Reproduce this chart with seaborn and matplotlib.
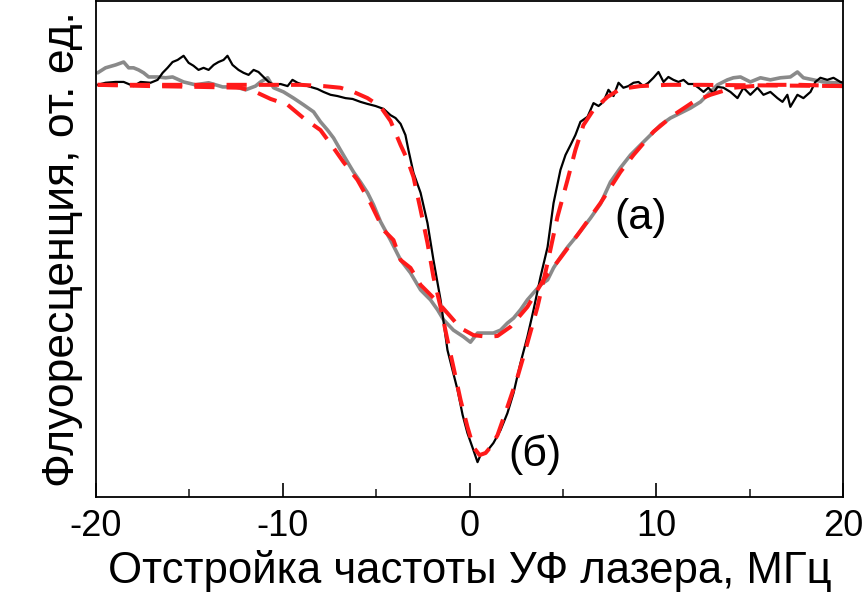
import numpy as np
import pandas as pd
import matplotlib
matplotlib.use("Agg")
import matplotlib.pyplot as plt
import seaborn as sns
from matplotlib.ticker import MultipleLocator

# ---- data (x in MHz, y in arbitrary units) ----
x_b = [-19.91, -19.49, -18.95, -18.52, -17.99, -17.61, -17.08, -16.70, -16.43, -16.17,
       -15.90, -15.63, -15.31, -15.04, -14.78, -14.51, -14.24, -13.97, -13.70, -13.44,
       -13.17, -12.96, -12.69, -12.37, -12.10, -11.83, -11.56, -11.30, -11.03, -10.76,
       -10.49, -10.12, -9.74, -9.48, -9.21, -8.89, -8.51, -8.14, -7.82, -7.44,
       -7.07, -6.64, -6.26, -5.84, -5.46, -5.03, -4.60, -4.23, -3.96, -3.69,
       -3.43, -3.27, -3.00, -2.62, -2.25, -1.93, -1.55, -1.18, -0.64, -0.37,
       -0.11, 0.21, 0.43, 0.59, 0.86, 1.28, 1.66, 2.03, 2.36, 2.73,
       3.10, 3.43, 3.80, 4.18, 4.50, 4.87, 5.14, 5.41, 5.67, 5.94,
       6.32, 6.64, 6.91, 7.17, 7.44, 7.71, 7.98, 8.24, 8.51, 8.78,
       9.05, 9.31, 9.58, 9.85, 10.12, 10.39, 10.65, 10.92, 11.19, 11.46,
       11.72, 11.99, 12.26, 12.53, 12.79, 13.06, 13.28, 13.60, 13.97, 14.35,
       14.67, 15.04, 15.42, 15.74, 16.11, 16.49, 16.76, 17.02, 17.18, 17.56,
       17.88, 18.26, 18.52, 18.79, 19.16, 19.49, 19.86, 20.00]
y_b = [0.993, 0.998, 1.000, 1.000, 0.990, 1.000, 0.998, 1.005, 1.022, 1.034,
       1.048, 1.053, 1.063, 1.046, 1.039, 1.029, 1.034, 1.029, 1.041, 1.048,
       1.053, 1.063, 1.041, 1.029, 1.022, 1.017, 1.029, 1.024, 1.012, 1.000,
       0.993, 0.995, 0.990, 1.005, 0.998, 0.993, 0.988, 0.983, 0.976, 0.969,
       0.966, 0.961, 0.959, 0.952, 0.947, 0.942, 0.935, 0.920, 0.913, 0.899,
       0.872, 0.836, 0.781, 0.733, 0.660, 0.571, 0.475, 0.354, 0.258, 0.198,
       0.154, 0.113, 0.084, 0.101, 0.106, 0.130, 0.161, 0.202, 0.251, 0.323,
       0.386, 0.451, 0.530, 0.602, 0.708, 0.788, 0.824, 0.848, 0.872, 0.904,
       0.916, 0.949, 0.942, 0.952, 0.981, 0.966, 0.998, 0.986, 0.990, 0.998,
       1.000, 0.990, 0.998, 1.010, 1.024, 1.000, 1.012, 1.005, 1.000, 1.005,
       0.995, 0.995, 0.986, 0.976, 0.986, 0.973, 0.988, 0.986, 0.976, 0.961,
       0.986, 0.969, 0.986, 0.969, 0.976, 0.961, 0.952, 0.969, 0.940, 0.969,
       0.961, 0.976, 1.000, 1.010, 1.005, 1.010, 1.000, 0.998]

x_a = [-19.91, -19.49, -18.95, -18.52, -18.25, -17.99, -17.72, -17.45, -17.18, -16.70,
       -16.27, -15.90, -15.31, -14.67, -13.97, -13.22, -12.53, -11.99, -11.46, -11.19,
       -10.81, -10.49, -9.96, -9.42, -8.89, -8.35, -7.98, -7.60, -7.28, -6.91,
       -6.53, -6.21, -5.84, -5.46, -5.14, -4.76, -4.23, -3.69, -3.16, -2.62,
       -2.09, -1.71, -1.39, -0.86, -0.32, 0.05, 0.43, 0.86, 1.28, 1.66,
       2.03, 2.36, 2.73, 3.10, 3.43, 3.80, 4.18, 4.50, 4.87, 5.25,
       5.78, 6.48, 7.01, 7.55, 8.08, 8.62, 9.15, 9.69, 10.22, 10.76,
       11.30, 11.83, 12.37, 12.90, 13.28, 13.81, 14.13, 14.51, 15.04, 15.58,
       16.11, 16.65, 17.18, 17.56, 17.88, 18.42, 18.95, 19.49, 20.00]
y_a = [1.022, 1.034, 1.041, 1.048, 1.034, 1.034, 1.029, 1.022, 1.012, 1.012,
       1.010, 1.012, 1.000, 0.993, 0.998, 0.988, 0.988, 0.981, 0.990, 1.000,
       1.010, 0.986, 0.976, 0.961, 0.945, 0.928, 0.904, 0.884, 0.865, 0.836,
       0.807, 0.783, 0.759, 0.733, 0.704, 0.663, 0.619, 0.571, 0.540, 0.499,
       0.475, 0.451, 0.427, 0.402, 0.386, 0.373, 0.395, 0.395, 0.395, 0.402,
       0.419, 0.431, 0.451, 0.475, 0.492, 0.511, 0.523, 0.552, 0.578, 0.602,
       0.631, 0.672, 0.706, 0.759, 0.793, 0.824, 0.848, 0.872, 0.896, 0.913,
       0.925, 0.937, 0.952, 0.976, 0.993, 1.005, 1.010, 1.012, 1.000, 1.010,
       1.005, 1.010, 1.012, 1.024, 1.010, 1.005, 1.000, 0.998, 0.998]

x_fit_a = [-19.91, -17.08, -14.40, -12.26, -11.46, -10.65, -9.74, -8.89, -7.98, -7.28,
           -6.75, -6.00, -5.30, -4.60, -4.07, -3.69, -3.16, -2.62, -1.71, -1.18,
           -0.48, 0.21, 0.96, 1.50, 2.19, 3.10, 3.96, 4.87, 5.94, 7.01,
           8.08, 8.78, 9.85, 10.92, 11.99, 12.90, 14.13, 15.95, 17.72, 20.00]
y_fit_a = [0.993, 0.990, 0.988, 0.986, 0.976, 0.959, 0.945, 0.913, 0.884, 0.841,
           0.807, 0.764, 0.708, 0.643, 0.619, 0.571, 0.552, 0.511, 0.470, 0.443,
           0.407, 0.390, 0.386, 0.388, 0.410, 0.458, 0.523, 0.576, 0.641, 0.708,
           0.783, 0.824, 0.880, 0.920, 0.952, 0.969, 0.986, 0.993, 0.993, 0.990]

x_fit_b = [-19.91, -14.40, -9.05, -7.82, -6.91, -6.21, -5.46, -4.76, -4.23, -3.69,
           -3.32, -3.00, -2.62, -2.25, -1.93, -1.55, -1.18, -0.86, -0.48, -0.11,
           0.21, 0.54, 0.86, 1.12, 1.50, 2.03, 2.57, 3.10, 3.64, 4.18,
           4.71, 5.25, 5.67, 6.10, 6.64, 7.39, 8.08, 9.15, 10.60, 12.37, 20.00]
y_fit_b = [0.993, 0.993, 0.993, 0.990, 0.986, 0.976, 0.961, 0.940, 0.906, 0.848,
           0.812, 0.771, 0.692, 0.612, 0.530, 0.458, 0.378, 0.313, 0.234, 0.169,
           0.120, 0.101, 0.106, 0.120, 0.149, 0.217, 0.289, 0.371, 0.458, 0.564,
           0.675, 0.764, 0.836, 0.896, 0.933, 0.964, 0.983, 0.990, 0.993, 0.993, 0.990]

x_ticks = [-20, -10, 0, 10, 20]
x_label = "Отстройка частоты УФ лазера, МГц"
y_label = "Флуоресценция, от. ед."
label_a = "(а)"
label_b = "(б)"

# ---- plotting ----
sns.set_theme(style="white")
plt.rcParams['font.family'] = ['Liberation Sans', 'DejaVu Sans']
plt.rcParams['axes.unicode_minus'] = False

fig = plt.figure(figsize=(8.64, 5.96), dpi=100)
ax = fig.add_axes([96 / 864, 1 - 497 / 596, (843 - 96) / 864, 496 / 596])

sns.lineplot(x=x_a, y=y_a, ax=ax, color="#8a8a8a", lw=2.6, sort=False, estimator=None)
sns.lineplot(x=x_b, y=y_b, ax=ax, color="black", lw=1.6, sort=False, estimator=None)
for xf, yf in [(x_fit_a, y_fit_a), (x_fit_b, y_fit_b)]:
    sns.lineplot(x=xf, y=yf, ax=ax, color="#ff1a1a", lw=2.9, sort=False,
                 estimator=None, dashes=False, linestyle=(0, (5, 3)))

ax.set_xlim(-20, 20)
ax.set_ylim(0, 1.195)
ax.set_xticks(x_ticks)
ax.xaxis.set_minor_locator(MultipleLocator(5))
ax.set_yticks([])
ax.tick_params(axis="x", which="major", direction="in", length=10, width=1.2,
               labelsize=26, pad=9, colors="black", bottom=True)
ax.tick_params(axis="x", which="minor", direction="in", length=6, width=1.2, bottom=True)
for s in ax.spines.values():
    s.set_color("black")
    s.set_linewidth(1.3)

ax.set_xlabel(x_label, fontsize=31.5, color="black", labelpad=4)
ax.set_ylabel(y_label, fontsize=32, color="black", labelpad=9)

ax.text(9.15, 0.672, label_a, fontsize=31, color="black", ha="center", va="center")
ax.text(3.5, 0.101, label_b, fontsize=31, color="black", ha="center", va="center")

fig.savefig("out.png", dpi=100)
